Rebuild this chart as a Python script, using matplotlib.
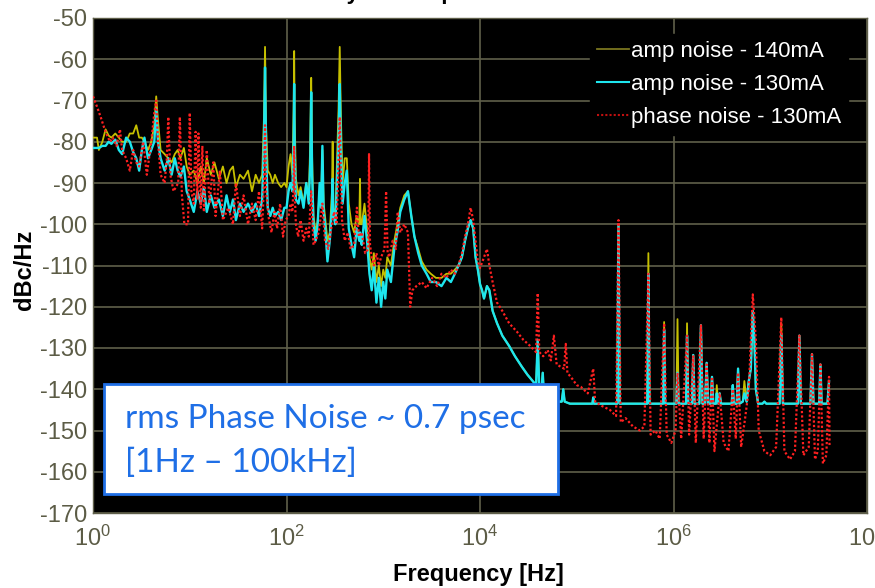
import matplotlib
matplotlib.use("Agg")
import matplotlib.pyplot as plt
from matplotlib.lines import Line2D
from matplotlib.patches import Rectangle

# ---- data (Hz, dBc/Hz) ----
amp_freq = [
    1.0, 1.1, 1.15, 1.25, 1.35, 1.45, 1.55, 1.7, 1.85, 2.0,
    2.2, 2.4, 2.6, 2.8, 3.0, 3.2, 3.4, 3.7, 4.0, 4.3,
    4.5, 4.7, 5.0, 5.5, 6.0, 6.5, 7.0, 7.5, 8.0, 8.7,
    9.3, 10,
    11, 12, 13, 14, 15, 16.5, 18, 20, 22, 24,
    26, 28, 30, 33, 36, 40, 44, 48, 52, 56,
    58.5, 60, 61.5, 64, 68, 72, 76, 82, 88, 95,
    100, 105, 110, 115, 118.5, 120, 121.5, 125, 133, 140,
    150, 160, 170, 176, 180, 184, 190, 200, 210, 220,
    228, 235, 242, 250, 265, 280, 295, 300, 305, 320,
    345, 355, 365, 380, 400, 420, 440, 470, 500, 530,
    565, 575, 585, 600, 640, 680, 720, 760, 800, 850,
    900, 950, 1000,
    1050, 1100, 1200, 1300, 1400, 1500, 1650, 1800, 1950, 2100,
    2300, 2500, 2800, 3100, 3500, 4000, 4500, 5000, 5500, 6000,
    6500, 7000, 7500, 8000, 8500, 9000, 9500, 10000,
    10500, 11000, 11800, 12500, 13500, 15000, 17000, 20000, 23000, 27000,
    31000, 35000, 38000, 39500, 41000, 43000, 44500, 46000, 50000, 55000,
    60000, 65000, 70000, 72500, 75000, 85000, 100000,
    120000, 145000, 148000, 151000, 200000, 262000, 270000, 278000, 400000, 535000,
    550000, 565000, 700000, 780000, 800000, 820000, 1.0e6, 1.07e6, 1.1e6, 1.13e6,
    1.3e6, 1.35e6, 1.38e6, 1.42e6, 1.55e6, 1.6e6, 1.65e6, 1.85e6, 1.92e6, 1.99e6,
    2.12e6, 2.2e6, 2.28e6, 2.42e6, 2.5e6, 2.58e6, 2.75e6, 2.8e6, 2.9e6, 3.0e6,
    3.1e6, 3.6e6, 4.0e6, 4.1e6, 4.2e6, 4.5e6, 4.65e6, 4.8e6, 5.2e6, 5.4e6,
    5.7e6, 6.0e6, 6.3e6, 6.6e6, 6.85e6, 7.1e6, 7.5e6, 8.3e6, 8.7e6, 9.1e6,
    12.5e6, 13e6, 13.5e6, 19.3e6, 20e6, 20.7e6, 26e6, 27e6, 28e6, 32e6,
    33e6, 34e6, 39e6, 40.5e6,
]

amp_130 = [
    -81.5, -81.5, -81.5, -81, -81, -80, -80.5, -79.5, -82, -83,
    -79, -80, -82.5, -84, -87, -82, -79, -84, -82, -80,
    -72, -80, -84, -87, -84, -88, -84, -87, -88.5, -86,
    -92, -94,
    -97, -92, -95, -91, -97, -93, -96, -94, -98, -93,
    -97, -94, -99, -95, -97, -95, -97, -95, -98, -94,
    -80, -62, -82, -96, -98, -96, -98, -97, -99, -96,
    -96, -92, -90, -92, -80, -66, -82, -94, -95, -92,
    -96, -90, -95, -85, -68, -88, -100, -104, -100, -90,
    -96, -81, -97, -100, -109, -104, -96, -89, -98, -100,
    -80, -66, -82, -95, -90, -87, -101, -105, -108, -101,
    -104, -102, -104, -105, -98, -104, -112, -116, -110, -119,
    -113, -120, -114,
    -118, -111, -114, -106, -102, -97, -94, -92, -98, -103,
    -107, -110, -112, -114, -114, -115, -113, -114, -112, -110,
    -108, -104, -101, -99, -101, -108, -111, -114.5,
    -116, -118, -115, -116, -121, -124, -127, -129.5, -132, -134.5,
    -136.5, -138, -139, -128, -140, -141, -136, -142, -142.5, -142.5,
    -143, -143, -143, -140, -143, -143.5, -143.5,
    -143.5, -143.5, -142, -143.5, -143.5, -143.5, -100, -143.5, -143.5, -143.5,
    -112, -143.5, -143.5, -143.5, -125.6, -143.5, -143.5, -143.5, -136, -143.5,
    -143.5, -143.5, -127, -143.5, -143.5, -131.7, -143.5, -143.5, -124.5, -143.5,
    -143.5, -133.6, -143.5, -143.5, -137, -143.5, -143.5, -141, -143.5, -141,
    -143.5, -143.5, -143.5, -139, -143.5, -143.5, -135, -143.5, -143, -141,
    -143, -138, -135, -121, -128, -140, -143.5, -143.5, -143, -143.5,
    -143.5, -126.6, -143.5, -143.5, -127, -143.5, -143.5, -131.5, -143.5, -143.5,
    -134, -143.5, -143.5, -138,
]

amp_140 = [
    -79, -79, -82, -80, -77, -78.5, -79, -78, -79, -80,
    -80, -78, -78, -76, -79, -79, -80, -82, -80, -76,
    -69, -75, -82, -83, -84, -85, -83, -82, -84, -81.5,
    -86, -88,
    -87, -90, -86, -90, -84, -88, -85, -89, -86, -90,
    -87, -86, -91, -88, -89, -87, -92, -88, -90, -88,
    -74, -57, -76, -87, -88, -90, -88, -90, -91, -90,
    -91, -86, -83, -88, -72, -58, -74, -89, -93, -91,
    -95, -90, -94, -80, -64.5, -84, -98, -102, -99, -92,
    -94, -82, -95, -98, -104, -102, -92, -80, -96, -98,
    -72, -57, -74, -90, -84, -84, -95, -100, -102, -98,
    -100, -89, -100, -100, -95, -101, -108, -111, -107, -114,
    -110, -115, -111,
    -113, -108, -110, -104, -100, -96, -93, -92, -98, -103,
    -106, -109, -111, -112, -113, -113, -112, -112, -111, -110,
    -108, -104, -101, -99, -101, -108, -111, -114.5,
    -116, -118, -115, -116, -121, -124, -127, -129.5, -132, -134.5,
    -136.5, -138, -139, -128, -140, -141, -136, -142, -142.5, -142.5,
    -143, -143, -143, -140, -143, -143.5, -143.5,
    -143.5, -143.5, -142, -143.5, -143.5, -143.5, -100, -143.5, -143.5, -143.5,
    -107, -143.5, -143.5, -143.5, -123.7, -143.5, -143.5, -143.5, -123, -143.5,
    -143.5, -143.5, -124, -143.5, -143.5, -131.7, -143.5, -143.5, -124.5, -143.5,
    -143.5, -133.6, -143.5, -143.5, -137, -143.5, -143.5, -139, -143.5, -141,
    -143.5, -143.5, -143.5, -139, -143.5, -143.5, -135, -143.5, -143, -138,
    -143, -138, -135, -121, -128, -140, -143.5, -143.5, -143, -143.5,
    -143.5, -124, -143.5, -143.5, -127, -143.5, -143.5, -131.5, -143.5, -143.5,
    -134, -143.5, -143.5, -138,
]

phase_freq = [
    1.0, 1.1, 1.2, 1.3, 1.4, 1.5, 1.6, 1.75, 1.9, 2.0,
    2.2, 2.4, 2.6, 2.8, 3.0, 3.3, 3.6, 4.0, 4.3, 4.5,
    4.7, 5.0, 5.5, 5.8, 6.0, 6.3, 6.8, 7.6, 7.9, 8.3,
    8.8, 9.6, 10, 10.4,
    11, 11.5, 12, 12.3, 13, 13.5, 14, 15, 16, 17.5,
    18.5, 20.5, 22, 25, 28, 30, 33, 36, 40, 44,
    48, 52, 56, 58.5, 60, 61.5, 65, 70, 75, 80,
    86, 92, 98,
    105, 110, 115, 118.5, 120, 121.5, 125, 132, 140, 150,
    160, 170, 180, 190, 200, 215, 235, 250, 270, 290,
    310, 330, 345, 355, 365, 375, 400, 430, 460, 500,
    534, 560, 600, 650, 700, 713, 730, 760, 800, 850,
    900, 950, 1030, 1070, 1110, 1150,
    1250, 1350, 1410, 1500, 1650, 1800, 1900, 2000, 2200, 2500,
    2800, 3200, 3600, 4000, 4500, 5000, 5500, 6000, 6500, 7000,
    7500, 8000, 8500, 9000, 9500, 10000,
    11000, 11800, 12500, 13500, 15000, 17000, 20000, 24000, 28000, 33000,
    38000, 39500, 41000, 45000, 50000, 54000, 58000, 62000, 74000, 77000,
    80000, 90000, 100000, 110000, 130000, 148000, 155000, 180000, 220000, 255000,
    270000, 285000, 320000, 380000, 450000, 500000, 550000, 580000, 650000, 720000,
    800000, 850000, 950000, 1.05e6, 1.1e6, 1.2e6, 1.38e6, 1.45e6, 1.6e6, 1.7e6,
    1.92e6, 2.05e6, 2.2e6, 2.35e6, 2.5e6, 2.65e6, 3.0e6, 3.3e6, 3.7e6, 4.1e6,
    4.4e6, 4.65e6, 5.0e6, 5.5e6, 6.0e6, 6.6e6, 7.1e6, 7.6e6, 8.7e6, 10e6,
    11.5e6, 13e6, 14e6, 16e6, 18e6, 20e6, 22e6, 25e6, 27e6, 29e6,
    31e6, 33e6, 35e6, 38e6, 40.5e6, 41e6,
]

phase_130 = [
    -69, -71.5, -74, -76.5, -78.5, -80, -79, -81, -77, -82,
    -84, -87, -82, -85, -86, -80, -88, -80, -73, -70,
    -80, -88, -90, -84, -74, -88, -92, -90, -74, -93,
    -100, -100, -73, -92,
    -95, -77.6, -94, -78, -96, -81, -97, -82, -95, -85,
    -98, -87, -99, -96, -100, -90, -98, -93, -100, -95,
    -99, -92, -101, -90, -76, -92, -98, -102, -97, -101,
    -95, -103, -99,
    -98, -95, -97, -90, -81, -92, -100, -103, -99, -104,
    -101, -103, -92, -105, -104, -102, -95, -104, -106, -101,
    -97, -100, -85, -74, -88, -99, -104, -102, -106, -105,
    -96, -103, -102, -107, -106, -83, -105, -108, -110, -107,
    -110, -108, -106, -92, -107, -108,
    -104, -106, -97, -102, -100, -102, -120, -116, -115, -114,
    -115.5, -113, -115, -112, -113, -111, -112, -110, -107, -103,
    -100, -96, -99, -104, -109, -110.6,
    -108, -106, -110, -114, -119, -121, -124, -126, -128, -129.5,
    -131, -116.7, -131, -132, -130.5, -133, -127, -134, -135, -129,
    -136, -137.5, -139, -139.4, -141, -135, -143, -144, -145, -146.5,
    -99, -148, -147, -149, -150, -149, -112, -151, -150, -152,
    -124, -151, -153, -150, -136, -152, -127, -151, -132, -153,
    -124.5, -152, -134, -153, -137, -155, -141, -153, -155, -140,
    -152, -136, -154, -147, -140, -117, -128, -150, -155, -156,
    -154, -122.6, -155, -157, -155, -127, -156, -154, -131.5, -157,
    -155, -134, -158, -156, -137, -154,
]

y_ticks = list(range(-170, -49, 10))
x_ticks = [1, 1e2, 1e4, 1e6, 1e8]
x_ticklabels = [r"$\mathregular{10^{0}}$", r"$\mathregular{10^{2}}$",
                r"$\mathregular{10^{4}}$", r"$\mathregular{10^{6}}$",
                r"$\mathregular{10^{8}}$"]

# ---- style ----
SANS = "Liberation Sans"
TICK_C = "#5c5c46"
GRID_C = "#5f5f4a"
C_140 = "#c6c000"
C_130 = "#1ee6ee"
C_PH = "#ff2020"
BLUE = "#1f6fe6"

plt.rcParams["font.family"] = SANS
plt.rcParams["mathtext.fontset"] = "custom"
plt.rcParams["mathtext.rm"] = SANS
plt.rcParams["mathtext.it"] = SANS

fig = plt.figure(figsize=(8.75, 5.88), dpi=100)
ax = fig.add_axes([93 / 875, 75 / 588, 774 / 875, 495 / 588])
ax.set_facecolor("black")

ax.plot(amp_freq, amp_140, color=C_140, lw=1.3, zorder=3)
ax.plot(amp_freq, amp_130, color=C_130, lw=1.7, zorder=4)
ax.plot(phase_freq, phase_130, color=C_PH, lw=1.6, ls=(0, (1, 1)), zorder=5)

ax.set_xscale("log")
ax.set_xlim(1, 1e8)
ax.set_ylim(-170, -50)
ax.set_yticks(y_ticks)
ax.set_yticklabels([str(v) for v in y_ticks])
ax.set_xticks(x_ticks)
ax.set_xticklabels(x_ticklabels)
ax.minorticks_off()
ax.tick_params(axis="both", length=0, labelsize=17, colors=TICK_C)
ax.tick_params(axis="y", pad=4)
ax.tick_params(axis="x", pad=9)
ax.grid(True, color=GRID_C, lw=1.2, zorder=1)
ax.set_axisbelow(True)
for s in ax.spines.values():
    s.set_color(GRID_C)
    s.set_linewidth(1.0)

handles = [Line2D([], [], color="#7a7620", lw=1.3),
           Line2D([], [], color=C_130, lw=1.5),
           Line2D([], [], color="#c01010", lw=1.5, ls=(0, (1, 1)))]
labels = ["amp noise - 140mA", "amp noise - 130mA", "phase noise - 130mA"]
leg = ax.legend(handles, labels, loc="upper right", bbox_to_anchor=(0.99, 0.99),
                facecolor="black", edgecolor="black", framealpha=1,
                fancybox=False, labelcolor="white", handlelength=1.45,
                handletextpad=0.1, labelspacing=0.55, borderpad=0.3,
                prop={"family": SANS, "size": 16})
leg.set_zorder(6)

fig.text(478 / 875, 1 - 574 / 588, "Frequency [Hz]", ha="center", va="center",
         fontsize=17, fontweight="bold")
fig.text(25 / 875, 1 - 270 / 588, "dBc/Hz", ha="center", va="center",
         rotation=90, fontsize=17, fontweight="bold")

# cut-off title above the plot, only descenders show
fig.text(268 / 875, 1 + 1.5 / 588, "Intensity noise spectrum", ha="left",
         va="baseline", fontsize=16, fontweight="bold")

# annotation box
fig.add_artist(Rectangle((104 / 875, 1 - 494 / 588), 454 / 875, 110 / 588,
                         transform=fig.transFigure, facecolor="white",
                         edgecolor=BLUE, lw=2, zorder=10))
fig.text(125 / 875, 1 - 419 / 588, "rms Phase Noise ~ 0.7 psec", color=BLUE,
         ha="left", va="center", fontsize=24, fontfamily="Lato", zorder=11)
fig.text(125 / 875, 1 - 463 / 588, "[1Hz \u2013 100kHz]", color=BLUE,
         ha="left", va="center", fontsize=24, fontfamily="Lato", zorder=11)

fig.savefig("out.png", dpi=100, facecolor="white")
